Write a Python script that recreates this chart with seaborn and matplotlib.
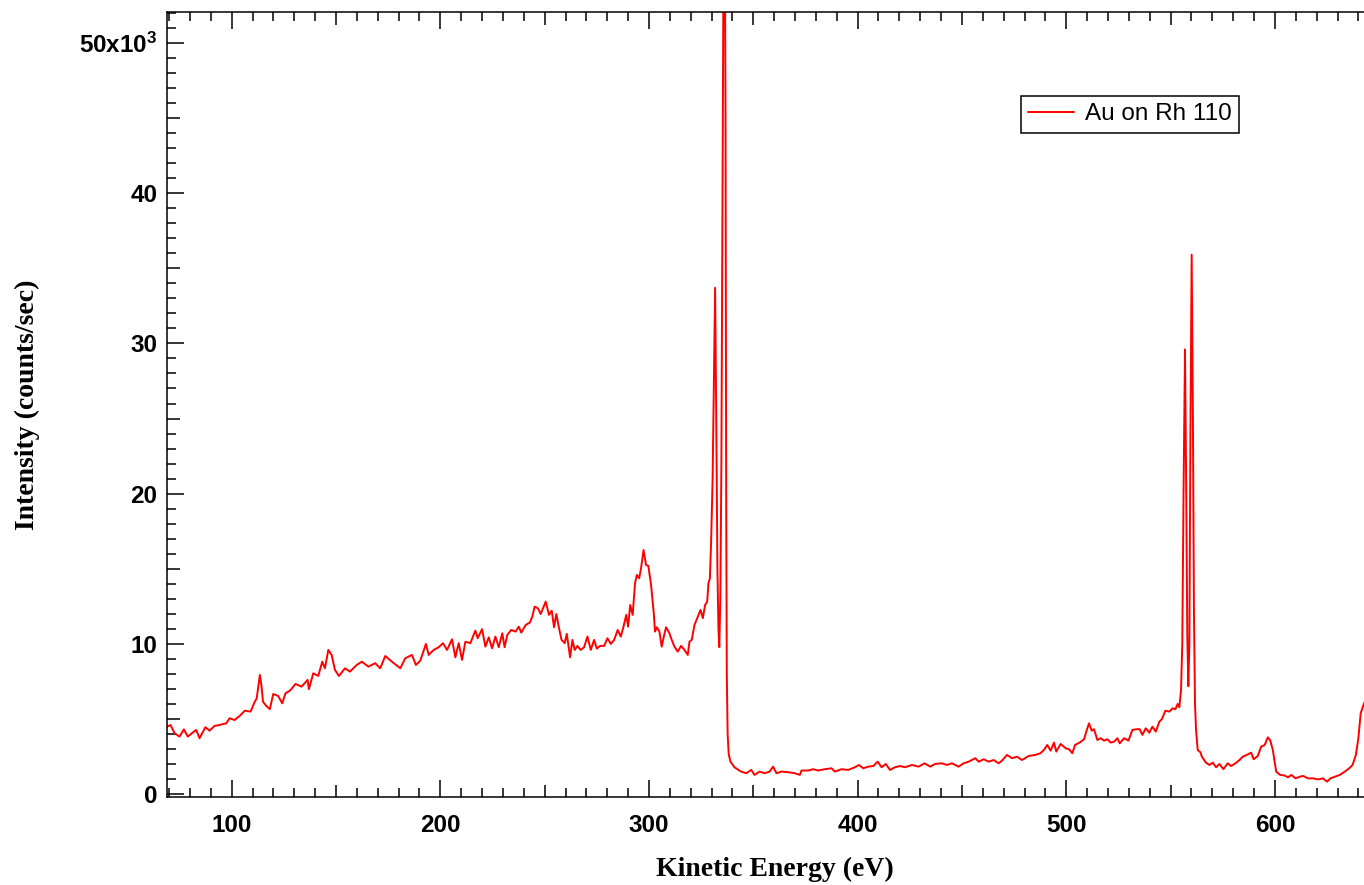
import matplotlib
matplotlib.use("Agg")
import matplotlib.pyplot as plt
import pandas as pd
import seaborn as sns
from matplotlib.ticker import MultipleLocator, FuncFormatter

# ---- data ----
energy_ev = [
    69.0, 70.7, 72.6, 75.0, 77.1, 79.0, 80.9, 83.0, 84.6, 87.4, 89.4, 91.8, 94.2, 97.4, 99.0,
    101.4, 103.8, 106.3, 109.1, 110.7, 112.0, 113.5, 114.3, 115.0, 116.5, 118.3, 119.9, 122.3,
    124.2, 125.8, 127.9, 130.6, 133.5, 136.4, 137.0, 139.1, 141.5, 143.4, 144.7, 146.3, 147.9,
    149.5, 151.4, 154.3, 156.7, 159.9, 162.4, 165.5, 168.8, 171.2, 173.6, 176.8, 180.8, 183.2,
    186.4, 188.3, 190.4, 193.1, 194.4, 196.8, 199.2,
    201.3, 203.2, 205.6, 207.2, 208.8, 210.4, 212.0, 214.4, 216.8, 217.9, 220.0, 221.6, 223.2,
    224.8, 226.4, 228.0, 229.7, 230.8, 232.1, 234.0, 236.1, 237.6, 238.8, 240.9, 242.9, 244.1,
    245.2, 246.8, 248.1, 250.5, 252.1, 253.4, 254.5, 255.6, 256.9, 258.1, 259.6, 260.6, 262.2,
    263.3, 264.4, 265.7, 267.3, 268.9, 270.5, 272.1, 273.7, 275.0, 276.6, 278.5, 280.1, 281.7,
    283.3, 285.0, 286.5, 287.8, 289.1, 290.0, 291.0, 292.2, 293.3, 294.2, 295.3, 296.2, 297.4,
    298.6, 299.7, 301.0, 302.3, 302.9, 303.8, 305.0, 306.1, 307.1, 308.2, 309.8, 310.9, 312.2,
    313.8, 315.4, 317.0, 318.6, 319.4, 320.5, 321.8, 323.4, 324.7, 325.8, 326.9, 327.9, 328.5,
    329.2, 329.8, 330.5, 331.0, 331.7, 332.3, 332.8, 333.3, 333.7, 334.2, 334.7, 335.2, 335.7,
    336.2, 336.7, 337.0, 337.3, 337.7, 338.2, 339.0, 340.0, 341.0, 342.2, 343.2,
    344.2, 346.6, 349.0, 350.6, 353.0, 355.4, 357.8, 359.5, 361.1, 363.5, 366.7, 369.9, 372.3,
    373.1, 376.3, 378.7, 381.1, 384.3, 387.5, 389.1, 392.3, 395.5, 398.7, 400.6, 402.7, 405.1,
    407.5, 409.6, 411.5, 413.5, 415.5, 417.9, 420.3, 422.7, 426.0, 429.2, 432.1, 434.8, 437.2,
    440.4, 442.8, 445.2, 448.4, 450.8, 453.2, 456.4, 458.0, 460.4, 462.8, 465.2, 467.6, 469.2,
    471.6, 474.0, 476.4, 478.8, 482.0, 485.2, 487.6, 489.3, 490.9, 492.5, 494.1, 495.2, 497.3,
    499.7, 501.3, 502.9, 504.2, 506.4, 508.5, 509.6, 510.9, 512.2, 513.3, 514.9, 516.5, 518.1,
    519.7, 521.3, 522.9, 524.5, 525.6, 527.7, 529.8, 531.7, 533.7, 535.2, 536.5, 538.1, 539.8,
    541.3, 542.9, 544.6, 545.8, 547.5, 549.4, 551.0, 552.3, 553.4, 554.2, 555.0, 555.6, 556.2,
    556.9, 557.5, 558.0, 558.5, 559.0, 559.5, 560.1, 560.7, 561.2, 561.7, 562.2, 563.0, 564.3,
    565.0, 566.9, 568.6, 570.2, 571.8, 573.4, 575.3, 577.4, 579.0, 581.1, 583.0, 584.6, 586.5,
    588.6, 589.8, 591.8, 593.4, 595.1, 596.6, 597.8, 599.0, 600.6, 602.5, 604.6, 606.3, 607.9,
    609.9, 611.9, 613.5, 615.9, 618.3, 620.7, 623.0, 625.0, 626.6, 628.7, 631.1, 633.5, 635.6,
    637.2, 638.8, 640.0, 641.1, 642.7, 644.0,
]
intensity_k = [
    4.50, 4.62, 4.07, 3.85, 4.33, 3.85, 4.07, 4.29, 3.74, 4.47, 4.24, 4.56, 4.62, 4.73, 5.07,
    4.95, 5.22, 5.57, 5.51, 6.06, 6.40, 7.95, 7.20, 6.17, 5.90, 5.67, 6.68, 6.55,
    6.06, 6.73, 6.90, 7.35, 7.17, 7.62, 7.00, 8.06, 7.88, 8.83, 8.39, 9.61, 9.28,
    8.28, 7.88, 8.39, 8.17, 8.61, 8.83, 8.50, 8.73, 8.39, 9.21, 8.83, 8.39, 9.06,
    9.28, 8.61, 8.90, 10.01, 9.28, 9.61, 9.79,
    10.06, 9.61, 10.32, 9.12, 10.06, 8.95, 10.16, 10.06, 10.90, 10.39, 10.99, 9.83, 10.45,
    9.72, 10.50, 9.79, 10.72, 9.79, 10.61, 10.94, 10.83, 11.16, 10.76, 11.27, 11.43, 11.83,
    12.49, 12.38, 12.00, 12.82, 11.94, 12.22, 11.12, 12.00, 11.05, 10.28, 10.06, 10.68, 9.12,
    10.28, 9.61, 9.88, 9.61, 9.79, 10.50, 9.61, 10.28, 9.70, 9.88, 9.88, 10.39, 10.01,
    10.28, 10.94, 10.50, 11.16, 11.94, 11.16, 12.60, 11.94, 14.05, 14.60, 14.38, 15.04, 16.26,
    15.26, 15.20, 13.93, 12.05, 10.83, 11.12, 10.83, 9.83, 10.50, 11.12, 10.72, 10.28, 9.83,
    9.50, 9.88, 9.61, 9.28, 10.16, 10.28, 11.27, 11.83, 12.27, 11.72, 12.60, 12.82, 14.05,
    14.38, 16.90, 21.00, 26.50, 33.70, 24.00, 15.00, 11.00, 9.80, 13.00, 22.00, 38.00, 55.00,
    62.00, 45.00, 20.00, 8.00, 4.00, 2.70, 2.20, 2.00, 1.80, 1.70, 1.60,
    1.52, 1.41, 1.63, 1.30, 1.52, 1.41, 1.52, 1.85, 1.41, 1.52, 1.48, 1.41, 1.30,
    1.59, 1.59, 1.68, 1.59, 1.68, 1.74, 1.52, 1.68, 1.63, 1.81, 1.96, 1.74, 1.85,
    1.89, 2.18, 1.81, 2.03, 1.63, 1.81, 1.89, 1.81, 1.96, 1.85, 2.07, 1.85, 2.03,
    2.07, 1.96, 2.07, 1.85, 2.07, 2.18, 2.41, 2.18, 2.34, 2.18, 2.29, 2.07, 2.25,
    2.63, 2.41, 2.51, 2.29, 2.56, 2.63, 2.74, 2.96, 3.29, 2.91, 3.45, 2.85, 3.36,
    3.07, 3.01, 2.74, 3.29, 3.45, 3.67, 4.18, 4.73, 4.24, 4.34, 3.62, 3.74, 3.58,
    3.67, 3.45, 3.51, 3.74, 3.40, 3.74, 3.58, 4.29, 4.34, 4.34, 3.96, 4.40, 4.11,
    4.51, 4.18, 4.84, 5.00, 5.57, 5.51, 5.73, 5.67, 6.02, 5.80, 6.95, 10.00, 20.00,
    29.60, 20.00, 10.50, 7.20, 10.00, 24.00, 35.90, 25.00, 12.00, 6.00, 4.29, 2.96, 2.80,
    2.51, 2.12, 1.96, 2.12, 1.81, 2.03, 1.68, 2.07, 1.89, 2.07, 2.29, 2.51, 2.63,
    2.78, 2.34, 2.56, 3.18, 3.29, 3.80, 3.58, 2.96, 1.52, 1.30, 1.26, 1.14, 1.30,
    1.07, 1.18, 1.23, 1.07, 1.07, 1.00, 1.07, 0.85, 1.07, 1.18, 1.30, 1.52, 1.74,
    1.96, 2.63, 3.74, 5.40, 6.06, 6.40,
]
series_label = "Au on Rh 110"
x_label = "Kinetic Energy (eV)"
y_label = "Intensity (counts/sec)"

# ---- style ----
sns.set_style("ticks")
plt.rcParams["font.family"] = ["Liberation Sans", "DejaVu Sans"]
plt.rcParams["font.weight"] = "bold"
plt.rcParams["text.color"] = "black"
plt.rcParams["axes.labelcolor"] = "black"
plt.rcParams["mathtext.fontset"] = "custom"
plt.rcParams["mathtext.rm"] = "Liberation Sans"
plt.rcParams["mathtext.it"] = "Liberation Sans:italic"
plt.rcParams["mathtext.bf"] = "Liberation Sans:bold"

W, H = 1364, 885
fig = plt.figure(figsize=(W / 100, H / 100), dpi=100)
ax = fig.add_axes([167 / W, 1 - 797 / H, 1 - 167 / W + 0.002, (797 - 12) / H])

df = pd.DataFrame({"energy": energy_ev, "intensity": intensity_k})
sns.lineplot(data=df, x="energy", y="intensity", color="#ff0000", linewidth=1.4,
             ax=ax, label=series_label, estimator=None, sort=False)

ax.set_xlim(69, 644)
ax.set_ylim(-0.17, 52.04)

for s in ax.spines.values():
    s.set_linewidth(1.1)
    s.set_color("black")

ax.xaxis.set_major_locator(MultipleLocator(50))
ax.xaxis.set_minor_locator(MultipleLocator(10))
ax.yaxis.set_major_locator(MultipleLocator(5))
ax.yaxis.set_minor_locator(MultipleLocator(1))


def xfmt(v, pos):
    r = int(round(v))
    return str(r) if r % 100 == 0 else ""


def yfmt(v, pos):
    r = int(round(v))
    if r % 10 != 0:
        return ""
    if r == 50:
        return r"50x10$^{3}$"
    return str(r)


ax.xaxis.set_major_formatter(FuncFormatter(xfmt))
ax.yaxis.set_major_formatter(FuncFormatter(yfmt))

ax.tick_params(axis="x", which="both", direction="in", top=True, bottom=True,
               width=1.1, color="black", labelcolor="black", labelsize=17.5, pad=12)
ax.tick_params(axis="y", which="both", direction="in", left=True, right=False,
               width=1.1, color="black", labelcolor="black", labelsize=17.5, pad=7)
ax.tick_params(which="major", length=12.2)
ax.tick_params(which="minor", length=6.2)

# medium ticks at the half-decades
for axis, step in ((ax.xaxis, 100), (ax.yaxis, 10)):
    locs = axis.get_majorticklocs()
    for loc, t in zip(locs, axis.get_major_ticks(len(locs))):
        if int(round(loc)) % step != 0:
            t.tick1line.set_markersize(9.0)
            t.tick2line.set_markersize(9.0)

ax.set_xlabel(x_label, fontfamily="Liberation Serif", fontsize=20, fontweight="bold", color="black")
ax.set_ylabel(y_label, fontfamily="Liberation Serif", fontsize=20, fontweight="bold", color="black")
ax.xaxis.set_label_coords(0.5 + 8 / 1197, -60 / 785)
ax.yaxis.set_label_coords(-127 / 1197, 0.5)

leg = ax.legend(loc="upper left", bbox_to_anchor=(1021 / W, 1 - 96 / H),
                bbox_transform=fig.transFigure, borderaxespad=0, fancybox=False,
                edgecolor="black", framealpha=1, handlelength=1.9, handletextpad=0.45,
                borderpad=0.3, prop={"family": "Liberation Sans", "weight": "normal", "size": 17.5})
leg.get_frame().set_linewidth(1.1)
for txt in leg.get_texts():
    txt.set_color("black")

fig.savefig("out.png", dpi=100)
